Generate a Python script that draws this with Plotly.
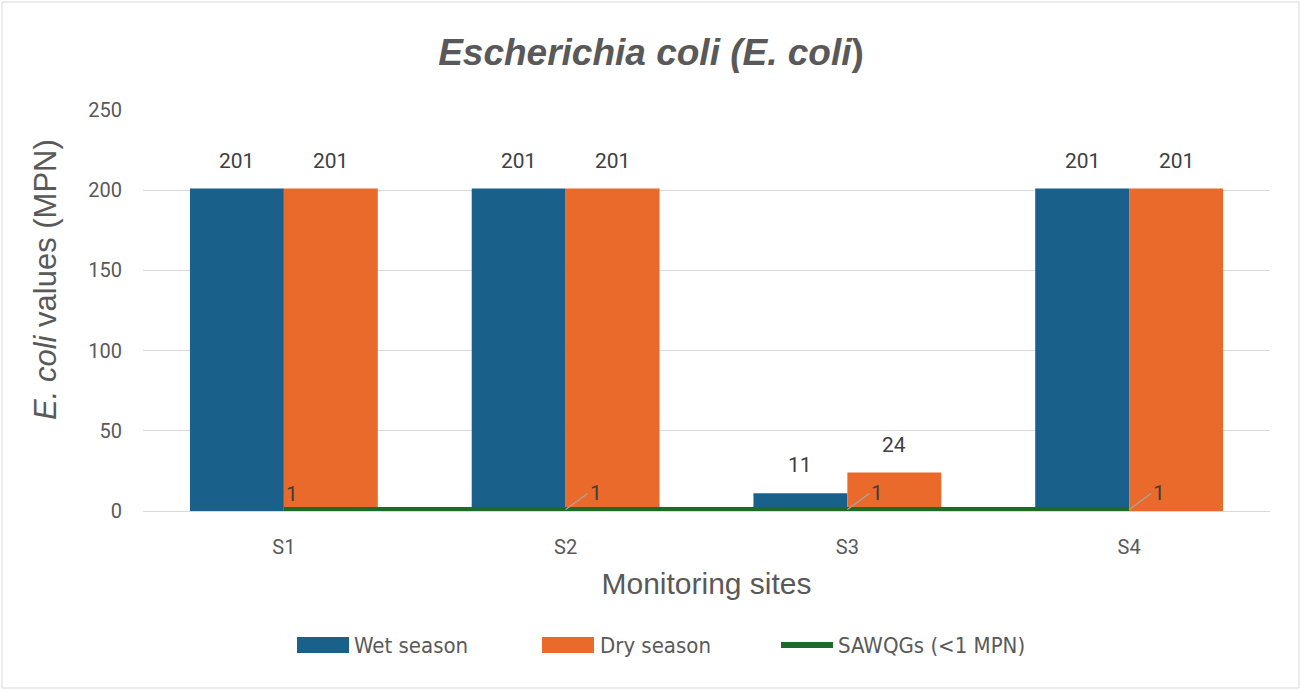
import plotly.graph_objects as go

# Monitoring data
sites = ["S1", "S2", "S3", "S4"]
wet_season = [201, 201, 11, 201]
dry_season = [201, 201, 24, 201]
sawqg_limit = [1, 1, 1, 1]
y_ticks = [0, 50, 100, 150, 200, 250]
series_names = ["Wet season", "Dry season", "SAWQGs (<1 MPN)"]

W, H = 1302, 691
L, R, T, B = 143, 32, 110, 180
plot_w = W - L - R
plot_h = H - T - B

WET = "#19608a"
DRY = "#ea6a2b"
GREEN = "#1e6b28"
TXT = "#595959"
LBL = "#404040"


def px_x(px):
    return (px - L) / plot_w


def px_y(py):
    return (T + plot_h - py) / plot_h


fig = go.Figure()
fig.add_trace(go.Bar(x=sites, y=wet_season, name=series_names[0],
                     marker=dict(color=WET, line=dict(width=0))))
fig.add_trace(go.Bar(x=sites, y=dry_season, name=series_names[1],
                     marker=dict(color=DRY, line=dict(width=0))))
fig.add_trace(go.Scatter(x=sites, y=sawqg_limit, name=series_names[2],
                         mode="lines", line=dict(color=GREEN, width=5)))

# value labels above each bar
group_px = plot_w / len(sites)
bar_px = group_px / 3
for series, offset in ((wet_season, -bar_px / 2), (dry_season, bar_px / 2)):
    for s, v in zip(sites, series):
        fig.add_annotation(x=s, y=v, text=str(v), showarrow=False,
                           xshift=offset, yshift=28,
                           font=dict(family="Roboto", size=21, color=LBL))

# labels for the guideline points
for i, (s, v) in enumerate(zip(sites, sawqg_limit)):
    if i == 0:
        fig.add_annotation(x=s, y=v, text=str(v), showarrow=False,
                           xanchor="left", xshift=0, yshift=15,
                           font=dict(family="Roboto", size=21, color=LBL))
    else:
        fig.add_annotation(x=s, y=v, text=str(v), showarrow=True,
                           arrowhead=0, arrowwidth=1.2, arrowcolor="#a6a6a6",
                           ax=22, ay=-16, xanchor="left",
                           font=dict(family="Roboto", size=21, color=LBL))

# y-axis title
fig.add_annotation(xref="paper", yref="paper", x=px_x(45), y=px_y(280),
                   text="<i>E. coli</i> values (MPN)", textangle=-90,
                   showarrow=False, xanchor="center", yanchor="middle",
                   font=dict(family="Liberation Sans", size=31, color=TXT))

# legend drawn as swatches with text
legend_y = 645
swatches = [
    (297, 349, 637, 653, WET, 352),
    (542, 594, 637, 653, DRY, 598),
    (781, 833, 642, 648, GREEN, 836),
]
for (x0, x1, y0, y1, col, tx), name in zip(swatches, series_names):
    fig.add_shape(type="rect", xref="paper", yref="paper",
                  x0=px_x(x0), x1=px_x(x1), y0=px_y(y1), y1=px_y(y0),
                  line=dict(width=0), fillcolor=col)
    fig.add_annotation(xref="paper", yref="paper", x=px_x(tx), y=px_y(legend_y),
                       text=name, showarrow=False, xanchor="left", yanchor="middle",
                       font=dict(family="DejaVu Sans Condensed", size=22, color=TXT))

# outer chart border
fig.add_shape(type="rect", xref="paper", yref="paper",
              x0=px_x(2), x1=px_x(W - 3), y0=px_y(H - 3), y1=px_y(2),
              line=dict(color="#d9d9d9", width=1), fillcolor="rgba(0,0,0,0)",
              layer="below")

fig.update_layout(
    width=W, height=H,
    margin=dict(l=L, r=R, t=T, b=B),
    paper_bgcolor="white", plot_bgcolor="white",
    barmode="group", bargap=1/3, bargroupgap=0,
    title=dict(text="<b><i>Escherichia coli (E. coli</i>)</b>",
               x=0.5, xref="container", xanchor="center",
               y=1 - 52 / H, yanchor="middle",
               font=dict(family="Liberation Sans", size=37, color=TXT)),
    showlegend=False,
)
fig.update_xaxes(
    title=dict(text="Monitoring sites", standoff=14,
               font=dict(family="Liberation Sans", size=30, color=TXT)),
    tickfont=dict(family="Roboto", size=20, color=TXT),
    showline=True, linecolor="#d9d9d9", linewidth=1,
    ticks="", showgrid=False, ticklabelstandoff=18,
)
fig.update_yaxes(
    range=[0, 250], tickvals=y_ticks,
    tickfont=dict(family="Roboto", size=20, color=TXT),
    showgrid=True, gridcolor="#d9d9d9", gridwidth=1,
    zeroline=False, ticks="", ticklabelstandoff=20,
)

fig.write_html("out.html")
